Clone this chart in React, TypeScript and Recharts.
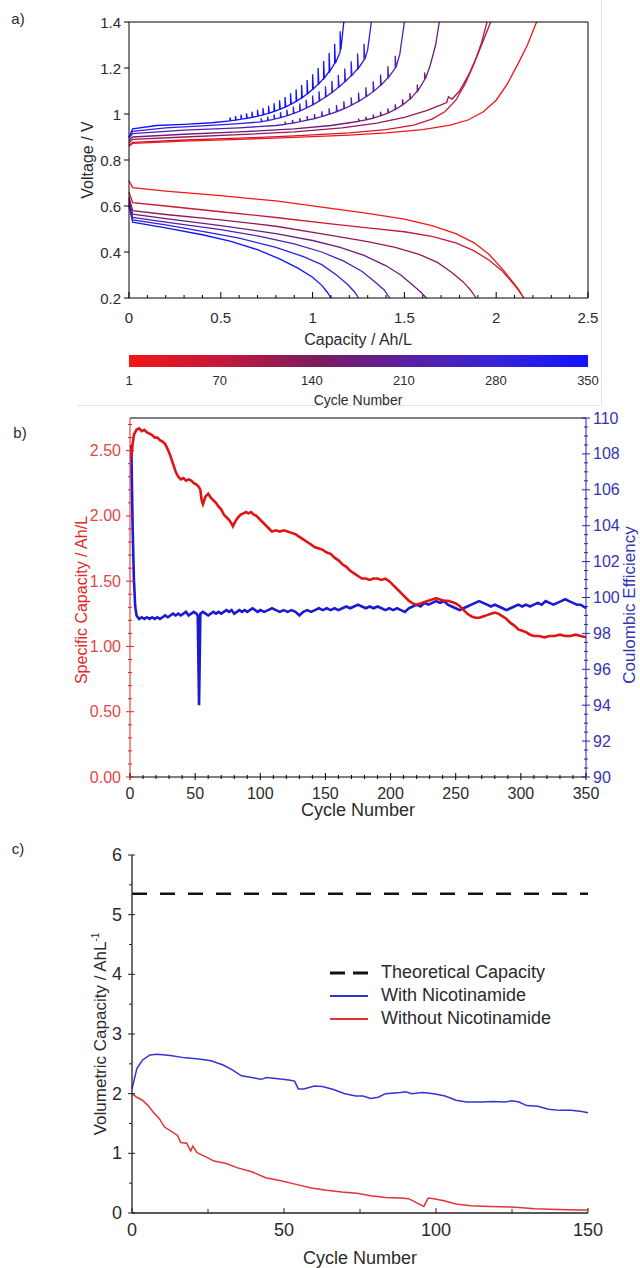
import React from "react";
import { LineChart, Line, XAxis, YAxis, ReferenceArea, Legend } from "recharts";

const FONT = '"Liberation Sans", Arial, Helvetica, sans-serif';
const INK = "#2b2b2b";

// ---------- panel a: voltage profiles (capacity Ah/L, voltage V) ----------
const A_CYCLES = [1, 60, 120, 175, 235, 290, 350];
const A_X_LABELS = [0, 0.5, 1, 1.5, 2, 2.5];
const A_Y_LABELS = [0.2, 0.4, 0.6, 0.8, 1, 1.2, 1.4];
const CB_TICKS = [1, 70, 140, 210, 280, 350];

const DIS_1: [number, number][] = [[0, 0.71], [0.02, 0.68], [0.2, 0.665], [0.5, 0.645], [0.8, 0.622], [1.1, 0.59], [1.3, 0.568], [1.5, 0.543], [1.65, 0.515], [1.78, 0.48], [1.88, 0.44], [1.96, 0.39], [2.03, 0.33], [2.08, 0.28], [2.12, 0.24], [2.15, 0.2]];
const DIS_60: [number, number][] = [[0, 0.66], [0.02, 0.615], [0.2, 0.6], [0.5, 0.575], [0.8, 0.55], [1.1, 0.522], [1.3, 0.505], [1.5, 0.488], [1.65, 0.468], [1.78, 0.44], [1.88, 0.405], [1.96, 0.365], [2.03, 0.32], [2.08, 0.275], [2.12, 0.235], [2.15, 0.2]];
const DIS_120: [number, number][] = [[0, 0.64], [0.02, 0.58], [0.2, 0.563], [0.5, 0.54], [0.8, 0.512], [1.1, 0.472], [1.3, 0.445], [1.45, 0.42], [1.58, 0.39], [1.68, 0.355], [1.76, 0.31], [1.82, 0.27], [1.86, 0.235], [1.89, 0.2]];
const DIS_175: [number, number][] = [[0, 0.63], [0.02, 0.565], [0.2, 0.545], [0.5, 0.515], [0.8, 0.48], [1.0, 0.45], [1.15, 0.42], [1.28, 0.385], [1.4, 0.34], [1.48, 0.3], [1.54, 0.26], [1.59, 0.225], [1.62, 0.2]];
const DIS_235: [number, number][] = [[0, 0.62], [0.02, 0.55], [0.2, 0.53], [0.5, 0.497], [0.7, 0.47], [0.9, 0.435], [1.05, 0.4], [1.17, 0.36], [1.27, 0.315], [1.34, 0.27], [1.39, 0.235], [1.42, 0.2]];
const DIS_290: [number, number][] = [[0, 0.61], [0.02, 0.54], [0.2, 0.518], [0.4, 0.49], [0.6, 0.46], [0.8, 0.42], [0.95, 0.38], [1.05, 0.345], [1.13, 0.3], [1.19, 0.26], [1.23, 0.225], [1.25, 0.2]];
const DIS_350: [number, number][] = [[0, 0.6], [0.02, 0.53], [0.2, 0.505], [0.4, 0.475], [0.55, 0.447], [0.7, 0.41], [0.82, 0.37], [0.92, 0.33], [1.0, 0.29], [1.05, 0.255], [1.08, 0.225], [1.1, 0.2]];

const CHG_1: [number, number][] = [[0, 0.86], [0.02, 0.872], [0.3, 0.882], [0.6, 0.89], [0.9, 0.898], [1.2, 0.908], [1.4, 0.918], [1.6, 0.932], [1.75, 0.952], [1.85, 0.975], [1.93, 1.01], [2.0, 1.06], [2.06, 1.13], [2.12, 1.22], [2.17, 1.3], [2.22, 1.4]];
const CHG_60: [number, number][] = [[0, 0.865], [0.02, 0.877], [0.3, 0.887], [0.6, 0.895], [0.9, 0.905], [1.2, 0.918], [1.4, 0.932], [1.55, 0.952], [1.65, 0.978], [1.72, 1.01], [1.78, 1.06], [1.83, 1.13], [1.88, 1.22], [1.92, 1.31], [1.95, 1.4]];
const CHG_120: [number, number][] = [[0, 0.875], [0.02, 0.89], [0.3, 0.9], [0.6, 0.91], [0.9, 0.922], [1.16, 0.94], [1.35, 0.96], [1.5, 0.985], [1.62, 1.015], [1.7, 1.04], [1.73, 1.05], [1.74, 1.075], [1.76, 1.065], [1.8, 1.1], [1.85, 1.17], [1.9, 1.26], [1.97, 1.4]];
const CHG_175: [number, number][] = [[0, 0.885], [0.02, 0.9], [0.3, 0.912], [0.6, 0.922], [0.9, 0.935], [1.1, 0.95], [1.2, 0.962],
  [1.25, 0.968], [1.25, 0.98], [1.254, 0.969], [1.29, 0.974], [1.29, 0.988], [1.294, 0.975], [1.33, 0.982], [1.33, 0.998], [1.334, 0.983],
  [1.37, 0.992], [1.37, 1.01], [1.374, 0.993], [1.41, 1.004], [1.41, 1.024], [1.414, 1.005], [1.45, 1.02], [1.45, 1.042], [1.454, 1.021],
  [1.49, 1.04], [1.49, 1.064], [1.494, 1.041], [1.53, 1.065], [1.53, 1.091], [1.534, 1.066], [1.57, 1.1], [1.57, 1.128], [1.574, 1.101],
  [1.61, 1.15], [1.61, 1.18], [1.614, 1.152], [1.64, 1.21], [1.67, 1.3], [1.69, 1.4]];
const CHG_235: [number, number][] = [[0, 0.895], [0.02, 0.915], [0.3, 0.93], [0.6, 0.94], [0.8, 0.95],
  [0.85, 0.955], [0.85, 0.967], [0.854, 0.956], [0.89, 0.96], [0.89, 0.974], [0.894, 0.961], [0.93, 0.966], [0.93, 0.982], [0.934, 0.967],
  [0.97, 0.973], [0.97, 0.991], [0.974, 0.974], [1.01, 0.98], [1.01, 1.0], [1.014, 0.981], [1.05, 0.989], [1.05, 1.012], [1.054, 0.99],
  [1.09, 0.999], [1.09, 1.025], [1.094, 1.0], [1.13, 1.01], [1.13, 1.039], [1.134, 1.011], [1.17, 1.023], [1.17, 1.055], [1.174, 1.024],
  [1.21, 1.038], [1.21, 1.073], [1.214, 1.039], [1.25, 1.055], [1.25, 1.093], [1.254, 1.056], [1.29, 1.075], [1.29, 1.116], [1.294, 1.076],
  [1.33, 1.098], [1.33, 1.142], [1.334, 1.099], [1.37, 1.125], [1.37, 1.172], [1.374, 1.126], [1.41, 1.158], [1.41, 1.208], [1.414, 1.159],
  [1.45, 1.2], [1.45, 1.253], [1.454, 1.202], [1.475, 1.26], [1.5, 1.4]];
const CHG_290: [number, number][] = [[0, 0.9], [0.02, 0.925], [0.2, 0.94], [0.4, 0.948], [0.6, 0.958],
  [0.72, 0.966], [0.72, 0.981], [0.724, 0.967], [0.755, 0.971], [0.755, 0.989], [0.759, 0.972], [0.79, 0.977], [0.79, 0.998], [0.794, 0.978],
  [0.825, 0.984], [0.825, 1.008], [0.829, 0.985], [0.86, 0.992], [0.86, 1.019], [0.864, 0.993], [0.895, 1.002], [0.895, 1.032], [0.899, 1.003],
  [0.93, 1.013], [0.93, 1.046], [0.934, 1.014], [0.965, 1.026], [0.965, 1.062], [0.969, 1.027], [1.0, 1.04], [1.0, 1.08], [1.004, 1.041],
  [1.035, 1.056], [1.035, 1.099], [1.039, 1.057], [1.07, 1.074], [1.07, 1.121], [1.074, 1.075], [1.105, 1.094], [1.105, 1.144], [1.109, 1.095],
  [1.14, 1.116], [1.14, 1.17], [1.144, 1.117], [1.175, 1.14], [1.175, 1.198], [1.179, 1.141], [1.21, 1.167], [1.21, 1.229], [1.214, 1.168],
  [1.245, 1.197], [1.245, 1.263], [1.249, 1.198], [1.28, 1.235], [1.28, 1.305], [1.284, 1.237], [1.3, 1.28], [1.32, 1.4]];
const CHG_350: [number, number][] = [[0, 0.9], [0.02, 0.935], [0.15, 0.95], [0.3, 0.955], [0.45, 0.962],
  [0.55, 0.97], [0.55, 0.985], [0.554, 0.971], [0.58, 0.973], [0.58, 0.991], [0.584, 0.974], [0.61, 0.977], [0.61, 0.997], [0.614, 0.978],
  [0.64, 0.981], [0.64, 1.003], [0.644, 0.982], [0.67, 0.985], [0.67, 1.01], [0.674, 0.986], [0.7, 0.99], [0.7, 1.018], [0.704, 0.991],
  [0.73, 0.996], [0.73, 1.026], [0.734, 0.997], [0.76, 1.003], [0.76, 1.036], [0.764, 1.004], [0.79, 1.011], [0.79, 1.047], [0.794, 1.012],
  [0.82, 1.02], [0.82, 1.06], [0.824, 1.021], [0.85, 1.03], [0.85, 1.074], [0.854, 1.031], [0.88, 1.042], [0.88, 1.09], [0.884, 1.043],
  [0.91, 1.055], [0.91, 1.107], [0.914, 1.056], [0.94, 1.07], [0.94, 1.126], [0.944, 1.071], [0.97, 1.088], [0.97, 1.148], [0.974, 1.089],
  [1.0, 1.108], [1.0, 1.173], [1.004, 1.109], [1.03, 1.13], [1.03, 1.2], [1.034, 1.131], [1.06, 1.155], [1.06, 1.23], [1.064, 1.156],
  [1.09, 1.185], [1.09, 1.265], [1.094, 1.186], [1.12, 1.22], [1.12, 1.305], [1.124, 1.221], [1.15, 1.27], [1.15, 1.36], [1.154, 1.28],
  [1.17, 1.4]];

const A_CHARGE = [CHG_1, CHG_60, CHG_120, CHG_175, CHG_235, CHG_290, CHG_350];
const A_DISCHARGE = [DIS_1, DIS_60, DIS_120, DIS_175, DIS_235, DIS_290, DIS_350];

// ---------- panel b: capacity + coulombic efficiency vs cycle ----------
const B_X_LABELS = [0, 50, 100, 150, 200, 250, 300, 350];
const B_CAP_LABELS = [0, 0.5, 1, 1.5, 2, 2.5];
const B_CE_LABELS = [90, 92, 94, 96, 98, 100, 102, 104, 106, 108, 110];
const B_CAPACITY: [number, number][] = [[1, 2.44], [2, 2.55], [3, 2.62], [5, 2.66], [7, 2.67], [9, 2.65], [11, 2.66], [13, 2.64], [15, 2.63], [17, 2.62], [19, 2.6], [21, 2.6], [23, 2.58], [25, 2.57], [27, 2.55], [29, 2.51], [31, 2.46], [33, 2.4], [35, 2.34], [37, 2.3], [39, 2.28], [41, 2.29], [43, 2.27], [45, 2.28], [47, 2.27], [49, 2.25], [51, 2.24], [53, 2.22], [54, 2.2], [55, 2.12], [56, 2.09], [58, 2.15], [60, 2.17], [62, 2.14], [64, 2.12], [66, 2.1], [68, 2.07], [70, 2.05], [72, 2.01], [74, 1.99], [76, 1.97], [78, 1.94], [79, 1.92], [81, 1.96], [83, 1.99], [85, 2.01], [87, 2.02], [89, 2.03], [91, 2.02], [93, 2.03], [95, 2.01], [97, 2.0], [99, 1.98], [101, 1.96], [103, 1.94], [105, 1.92], [107, 1.9], [109, 1.88], [112, 1.89], [115, 1.88], [118, 1.89], [121, 1.88], [124, 1.87], [127, 1.86], [130, 1.84], [133, 1.82], [136, 1.8], [139, 1.78], [142, 1.76], [145, 1.75], [148, 1.74], [151, 1.72], [154, 1.71], [157, 1.68], [160, 1.66], [163, 1.63], [166, 1.61], [169, 1.58], [172, 1.56], [175, 1.54], [178, 1.52], [181, 1.52], [184, 1.51], [187, 1.52], [190, 1.52], [193, 1.51], [196, 1.52], [199, 1.5], [202, 1.47], [205, 1.44], [208, 1.41], [211, 1.38], [214, 1.35], [217, 1.33], [220, 1.32], [223, 1.33], [226, 1.34], [229, 1.35], [232, 1.36], [235, 1.37], [238, 1.36], [241, 1.35], [244, 1.35], [247, 1.34], [250, 1.33], [253, 1.31], [256, 1.28], [259, 1.25], [262, 1.23], [265, 1.22], [268, 1.22], [271, 1.23], [274, 1.24], [277, 1.25], [280, 1.26], [283, 1.25], [286, 1.23], [289, 1.21], [292, 1.18], [295, 1.16], [298, 1.13], [301, 1.12], [304, 1.11], [307, 1.09], [310, 1.08], [314, 1.08], [318, 1.07], [322, 1.08], [326, 1.08], [330, 1.09], [334, 1.08], [338, 1.08], [342, 1.09], [346, 1.08], [350, 1.07]];
const B_CE: [number, number][] = [[1, 108.5], [2, 104], [3, 101], [4, 99.5], [5, 99.0], [7, 98.8], [9, 98.9], [11, 98.8], [13, 98.9], [15, 98.8], [17, 98.9], [19, 98.8], [21, 98.9], [23, 98.8], [25, 98.9], [27, 99.0], [29, 98.9], [31, 99.0], [33, 99.1], [35, 99.0], [37, 99.1], [39, 99.0], [41, 99.1], [43, 99.2], [45, 99.0], [47, 99.1], [49, 99.2], [51, 99.1], [52, 99.0], [53, 94.0], [54, 99.1], [56, 99.2], [58, 99.1], [60, 99.0], [62, 99.1], [64, 99.2], [66, 99.1], [68, 99.2], [70, 99.1], [72, 99.2], [74, 99.3], [76, 99.2], [78, 99.3], [80, 99.1], [82, 99.2], [84, 99.3], [86, 99.2], [88, 99.3], [90, 99.2], [92, 99.3], [94, 99.4], [96, 99.3], [98, 99.2], [100, 99.3], [103, 99.2], [106, 99.3], [109, 99.4], [112, 99.3], [115, 99.2], [118, 99.3], [121, 99.2], [124, 99.3], [127, 99.2], [130, 99.0], [133, 99.2], [136, 99.3], [139, 99.2], [142, 99.3], [145, 99.4], [148, 99.3], [151, 99.4], [154, 99.3], [157, 99.4], [160, 99.3], [163, 99.4], [166, 99.5], [169, 99.4], [172, 99.5], [175, 99.6], [178, 99.5], [181, 99.4], [184, 99.5], [187, 99.4], [190, 99.5], [193, 99.4], [196, 99.3], [199, 99.4], [202, 99.3], [205, 99.4], [208, 99.3], [211, 99.2], [214, 99.4], [217, 99.5], [220, 99.6], [223, 99.5], [226, 99.7], [229, 99.6], [232, 99.7], [235, 99.8], [238, 99.7], [241, 99.8], [244, 99.6], [247, 99.5], [250, 99.4], [253, 99.3], [256, 99.4], [259, 99.5], [262, 99.6], [265, 99.7], [268, 99.8], [271, 99.7], [274, 99.6], [277, 99.5], [280, 99.6], [283, 99.5], [286, 99.4], [289, 99.3], [292, 99.4], [295, 99.5], [298, 99.6], [301, 99.5], [304, 99.6], [307, 99.5], [310, 99.6], [313, 99.7], [316, 99.6], [319, 99.8], [322, 99.7], [325, 99.6], [328, 99.7], [331, 99.8], [334, 99.9], [337, 99.8], [340, 99.7], [343, 99.6], [346, 99.6], [348, 99.5], [350, 99.4]];

// ---------- panel c: volumetric capacity vs cycle ----------
const C_X_LABELS = [0, 50, 100, 150];
const C_Y_LABELS = [0, 1, 2, 3, 4, 5, 6];
const C_THEORETICAL = 5.35;
const C_WITH: [number, number][] = [[0, 2.08], [1.6, 2.42], [3.4, 2.56], [5.9, 2.65], [8.3, 2.66], [12.6, 2.64], [17.5, 2.6], [22, 2.58], [26, 2.55], [30, 2.48], [33, 2.4], [36, 2.3], [39.4, 2.27], [42.5, 2.24], [44.3, 2.27], [48, 2.25], [51.6, 2.23], [53.5, 2.21], [54.7, 2.08], [56.5, 2.08], [60, 2.13], [62.6, 2.12], [66.3, 2.07], [70, 2.0], [73.6, 1.96], [76, 1.96], [78.5, 1.92], [81, 1.94], [83.4, 2.0], [88.3, 2.02], [90, 2.03], [92, 2.0], [95.6, 2.02], [99.3, 2.0], [103, 1.96], [106.6, 1.89], [110, 1.86], [115, 1.86], [118.8, 1.87], [122.5, 1.86], [125, 1.88], [127.3, 1.86], [129.8, 1.8], [133.5, 1.79], [137, 1.74], [140.8, 1.72], [144.5, 1.72], [148, 1.7], [150, 1.68]];
const C_WITHOUT: [number, number][] = [[0, 2.0], [1.6, 1.94], [3.4, 1.89], [5.3, 1.8], [7, 1.69], [9, 1.58], [10.7, 1.44], [12.6, 1.38], [15, 1.3], [16, 1.18], [18, 1.17], [19.3, 1.04], [20, 1.12], [21.4, 1.01], [24, 0.95], [27, 0.87], [31, 0.83], [34.5, 0.76], [39.4, 0.69], [44, 0.59], [49, 0.54], [54, 0.48], [59, 0.42], [64, 0.38], [69, 0.35], [74, 0.33], [78.5, 0.29], [83.4, 0.26], [88.3, 0.25], [91, 0.24], [93.7, 0.17], [96, 0.11], [97.4, 0.25], [99.3, 0.24], [103, 0.2], [106.6, 0.15], [111.5, 0.12], [117.6, 0.11], [125, 0.1], [132.5, 0.07], [140, 0.06], [147, 0.05], [150, 0.05]];

// ---------- helpers ----------
const steps = (a: number, b: number, d: number) => {
  const n = Math.round((b - a) / d);
  return Array.from({ length: n + 1 }, (_, i) => +(a + i * d).toFixed(6));
};
const near = (list: number[], v: number) => list.some((m) => Math.abs(m - v) < 1e-6);
const pts = (arr: [number, number][]) => arr.map(([x, y]) => ({ x, y }));

const STOPS: [number, string][] = [[0, "#f21616"], [0.2, "#c4183c"], [0.4, "#7e1c5c"], [0.6, "#5b1fa0"], [0.8, "#3524d8"], [1, "#1212ff"]];
function cycleColor(c: number) {
  const t = (c - 1) / 349;
  for (let i = 1; i < STOPS.length; i++) {
    const [t1, c1] = STOPS[i];
    const [t0, c0] = STOPS[i - 1];
    if (t <= t1) {
      const f = (t - t0) / (t1 - t0);
      const h = (s: string, k: number) => parseInt(s.slice(1 + 2 * k, 3 + 2 * k), 16);
      const ch = [0, 1, 2].map((k) => Math.round(h(c0, k) + (h(c1, k) - h(c0, k)) * f));
      return `rgb(${ch.join(",")})`;
    }
  }
  return STOPS[STOPS.length - 1][1];
}

type Side = "bottom" | "top" | "left" | "right";
interface TickSpec {
  side: Side;
  majors: number[];
  labels?: boolean;
  fmt?: (v: number) => string;
  inMaj?: number;
  outMaj?: number;
  inMin?: number;
  outMin?: number;
  stroke?: string;
  fill?: string;
  size?: number;
  gap?: number;
}

function tickRenderer(s: TickSpec) {
  return (props: any) => {
    const { x, y, payload } = props;
    const v = Number(payload.value);
    const major = near(s.majors, v);
    const inn = major ? s.inMaj ?? 5 : s.inMin ?? 3;
    const out = major ? s.outMaj ?? 0 : s.outMin ?? 0;
    const stroke = s.stroke ?? "#000";
    const txt = s.fmt ? s.fmt(v) : String(v);
    const gap = s.gap ?? 16;
    const tp = { fontFamily: FONT, fontSize: s.size ?? 14, fill: s.fill ?? INK };
    const show = s.labels && major;
    let line;
    let label = null;
    if (s.side === "bottom") {
      line = <line x1={x} x2={x} y1={y - inn} y2={y + out} stroke={stroke} />;
      if (show) label = <text x={x} y={y + gap} textAnchor="middle" dominantBaseline="central" {...tp}>{txt}</text>;
    } else if (s.side === "top") {
      line = <line x1={x} x2={x} y1={y + inn} y2={y - out} stroke={stroke} />;
    } else if (s.side === "left") {
      line = <line x1={x + inn} x2={x - out} y1={y} y2={y} stroke={stroke} />;
      if (show) label = <text x={x - gap} y={y} textAnchor="end" dominantBaseline="central" {...tp}>{txt}</text>;
    } else {
      line = <line x1={x - inn} x2={x + out} y1={y} y2={y} stroke={stroke} />;
      if (show) label = <text x={x + gap} y={y} textAnchor="start" dominantBaseline="central" {...tp}>{txt}</text>;
    }
    return (
      <g>
        {line}
        {label}
      </g>
    );
  };
}

const axisCommon = { interval: 0 as const, tickLine: false, tickSize: 0, tickMargin: 0 };

const Txt = ({ x, y, size = 16, color = INK, rotate = false, children }: any) => (
  <div
    style={{
      position: "absolute",
      left: x,
      top: y,
      transform: `translate(-50%, -50%)${rotate ? " rotate(-90deg)" : ""}`,
      fontSize: size,
      color,
      whiteSpace: "nowrap",
      fontFamily: FONT,
      lineHeight: 1,
    }}
  >
    {children}
  </div>
);

// ---------- panels ----------
function PanelA() {
  const xt = steps(0, 2.5, 0.1);
  const order = A_CYCLES.map((c, i) => i).reverse();
  return (
    <div style={{ position: "absolute", left: 0, top: 0 }}>
      <LineChart width={640} height={350} margin={{ top: 0, right: 0, bottom: 0, left: 0 }}>
        <XAxis xAxisId="b" type="number" dataKey="x" domain={[0, 2.5]} ticks={xt} height={52} axisLine={{ stroke: "#000" }} {...axisCommon}
          tick={tickRenderer({ side: "bottom", majors: A_X_LABELS, labels: true, inMaj: 6, inMin: 3, size: 15, gap: 19 })} />
        <XAxis xAxisId="t" orientation="top" type="number" domain={[0, 2.5]} ticks={xt} height={22} axisLine={{ stroke: "#000" }} {...axisCommon}
          tick={tickRenderer({ side: "top", majors: A_X_LABELS, inMaj: 6, inMin: 3 })} />
        <YAxis yAxisId="l" type="number" domain={[0.2, 1.4]} ticks={A_Y_LABELS} width={129} axisLine={{ stroke: "#000" }} {...axisCommon}
          tick={tickRenderer({ side: "left", majors: A_Y_LABELS, labels: true, inMaj: 0, outMaj: 5, size: 15, gap: 8 })} />
        <YAxis yAxisId="r" orientation="right" type="number" domain={[0.2, 1.4]} ticks={A_Y_LABELS} width={52} axisLine={{ stroke: "#000" }} {...axisCommon}
          tick={tickRenderer({ side: "right", majors: A_Y_LABELS, inMaj: 5 })} />
        {order.map((i) => (
          <Line key={`d${i}`} xAxisId="b" yAxisId="l" data={pts(A_DISCHARGE[i])} dataKey="y" type="linear" dot={false}
            stroke={cycleColor(A_CYCLES[i])} strokeWidth={1.3} isAnimationActive={false} />
        ))}
        {order.map((i) => (
          <Line key={`c${i}`} xAxisId="b" yAxisId="l" data={pts(A_CHARGE[i])} dataKey="y" type="linear" dot={false}
            stroke={cycleColor(A_CYCLES[i])} strokeWidth={1.3} isAnimationActive={false} />
        ))}
      </LineChart>
    </div>
  );
}

function ColorBar() {
  return (
    <div style={{ position: "absolute", left: 0, top: 345 }}>
      <LineChart width={640} height={70} data={CB_TICKS.map((c) => ({ c }))} margin={{ top: 10, right: 52, bottom: 0, left: 129 }}>
        <defs>
          <linearGradient id="cbGrad" x1="0" y1="0" x2="1" y2="0">
            {STOPS.map(([o, c]) => (
              <stop key={o} offset={`${o * 100}%`} stopColor={c} />
            ))}
          </linearGradient>
        </defs>
        <XAxis type="number" dataKey="c" domain={[1, 350]} ticks={CB_TICKS} height={48} axisLine={false} {...axisCommon}
          tick={tickRenderer({ side: "bottom", majors: CB_TICKS, labels: true, inMaj: 0, size: 13, gap: 13 })} />
        <YAxis hide type="number" domain={[0, 1]} />
        <ReferenceArea x1={1} x2={350} y1={0} y2={1} fill="url(#cbGrad)" fillOpacity={1} stroke="none" ifOverflow="extendDomain" />
      </LineChart>
    </div>
  );
}

function PanelB() {
  const xt = steps(0, 350, 10);
  return (
    <div style={{ position: "absolute", left: 0, top: 400 }}>
      <LineChart width={640} height={420} margin={{ top: 0, right: 0, bottom: 0, left: 0 }}>
        <XAxis xAxisId="b" type="number" dataKey="x" domain={[0, 350]} ticks={xt} height={43} axisLine={{ stroke: "#000" }} {...axisCommon}
          tick={tickRenderer({ side: "bottom", majors: B_X_LABELS, labels: true, inMaj: 4, outMaj: 3, inMin: 2, outMin: 2, size: 16, gap: 16 })} />
        <XAxis xAxisId="t" orientation="top" type="number" domain={[0, 350]} ticks={xt} height={18} axisLine={{ stroke: "#000" }} {...axisCommon}
          tick={tickRenderer({ side: "top", majors: B_X_LABELS, inMaj: 4, outMaj: 3, inMin: 2, outMin: 2 })} />
        <YAxis yAxisId="cap" type="number" domain={[0, 2.75]} ticks={steps(0, 2.7, 0.1)} width={130} axisLine={{ stroke: "#e02424" }} {...axisCommon}
          tick={tickRenderer({ side: "left", majors: B_CAP_LABELS, labels: true, fmt: (v) => v.toFixed(2), inMaj: 4, outMaj: 4, inMin: 2, outMin: 2, stroke: "#e02424", fill: "#e24646", size: 16, gap: 9 })} />
        <YAxis yAxisId="ce" orientation="right" type="number" domain={[90, 110]} ticks={steps(90, 110, 0.5)} width={54} axisLine={{ stroke: "#2323b8" }} {...axisCommon}
          tick={tickRenderer({ side: "right", majors: B_CE_LABELS, labels: true, inMaj: 4, outMaj: 4, inMin: 2, outMin: 2, stroke: "#2323b8", fill: "#3535b0", size: 16, gap: 7 })} />
        <Line xAxisId="b" yAxisId="ce" data={pts(B_CE)} dataKey="y" type="linear" dot={false} stroke="#1a1ad2" strokeWidth={2.6} isAnimationActive={false} />
        <Line xAxisId="b" yAxisId="cap" data={pts(B_CAPACITY)} dataKey="y" type="linear" dot={false} stroke="#e01414" strokeWidth={2.6} isAnimationActive={false} />
      </LineChart>
    </div>
  );
}

const renderCLegend = (props: any) => {
  const items: any[] = props.payload ?? [];
  return (
    <div style={{ fontFamily: FONT, fontSize: 18, color: INK }}>
      {items.map((it) => {
        const dashed = !!it.payload?.strokeDasharray;
        return (
          <div key={it.value} style={{ display: "flex", alignItems: "center", height: 23 }}>
            <svg width={38} height={10} style={{ marginRight: 13 }}>
              <line x1={0} x2={38} y1={5} y2={5} stroke={it.color} strokeWidth={dashed ? 3 : 2} strokeDasharray={dashed ? "15 8" : undefined} />
            </svg>
            <span>{it.value}</span>
          </div>
        );
      })}
    </div>
  );
};

function PanelC() {
  return (
    <div style={{ position: "absolute", left: 0, top: 830 }}>
      <LineChart width={640} height={438} margin={{ top: 25, right: 52, bottom: 0, left: 0 }}>
        <XAxis type="number" dataKey="x" domain={[0, 150]} ticks={steps(0, 150, 25)} height={55} axisLine={{ stroke: "#222", strokeWidth: 1.3 }} {...axisCommon}
          tick={tickRenderer({ side: "bottom", majors: C_X_LABELS, labels: true, inMaj: 5, inMin: 4, size: 18, gap: 17, stroke: "#222" })} />
        <YAxis type="number" domain={[0, 6]} ticks={steps(0, 6, 0.5)} width={132} axisLine={{ stroke: "#222", strokeWidth: 1.3 }} {...axisCommon}
          tick={tickRenderer({ side: "left", majors: C_Y_LABELS, labels: true, inMaj: 3, outMaj: 4, inMin: 0, outMin: 3, size: 18, gap: 10, stroke: "#222" })} />
        <Legend layout="vertical" align="center" verticalAlign="middle" content={renderCLegend}
          wrapperStyle={{ left: 330, top: 131, width: 280, height: 70 }} />
        <Line name="Theoretical Capacity" data={[{ x: 0, y: C_THEORETICAL }, { x: 150, y: C_THEORETICAL }]} dataKey="y" type="linear" dot={false}
          stroke="#111" strokeWidth={2.6} strokeDasharray="15 13" isAnimationActive={false} />
        <Line name="With Nicotinamide" data={pts(C_WITH)} dataKey="y" type="linear" dot={false} stroke="#3434d4" strokeWidth={1.5} isAnimationActive={false} />
        <Line name="Without Nicotinamide" data={pts(C_WITHOUT)} dataKey="y" type="linear" dot={false} stroke="#e23434" strokeWidth={1.5} isAnimationActive={false} />
      </LineChart>
    </div>
  );
}

export default function App() {
  return (
    <div style={{ position: "absolute", left: 0, top: 0, width: 640, height: 1268, background: "#fff", overflow: "hidden", fontFamily: FONT }}>
      <div style={{ position: "absolute", left: 601, top: 0, width: 1, height: 405, background: "#e4e4e4" }} />
      <div style={{ position: "absolute", left: 78, top: 405, width: 524, height: 1, background: "#e4e4e4" }} />
      <PanelA />
      <ColorBar />
      <PanelB />
      <PanelC />

      <Txt x={18} y={18} size={15}>a)</Txt>
      <Txt x={88} y={160} rotate>Voltage / V</Txt>
      <Txt x={358} y={340}>Capacity / Ah/L</Txt>
      <Txt x={358} y={400} size={14}>Cycle Number</Txt>

      <Txt x={20} y={432} size={15}>b)</Txt>
      <Txt x={82} y={600} rotate color="#e02828">Specific Capacity / Ah/L</Txt>
      <Txt x={629} y={605} rotate size={17} color="#3434b4">Coulombic Efficiency</Txt>
      <Txt x={358} y={810} size={18}>Cycle Number</Txt>

      <Txt x={18} y={848} size={15}>c)</Txt>
      <Txt x={100} y={1034} rotate size={17}>
        Volumetric Capacity / AhL<sup style={{ fontSize: 10 }}>-1</sup>
      </Txt>
      <Txt x={360} y={1258} size={18}>Cycle Number</Txt>
    </div>
  );
}
